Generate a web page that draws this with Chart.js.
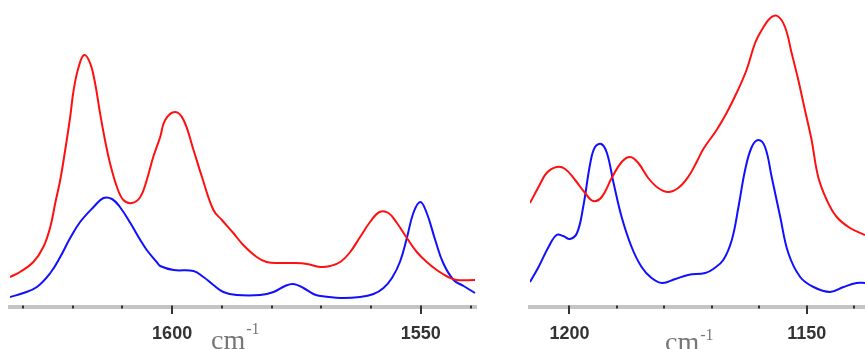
<!DOCTYPE html>
<html><head><meta charset="utf-8">
<script src="https://cdn.jsdelivr.net/npm/chart.js@4/dist/chart.umd.min.js"></script>
<style>
html,body{margin:0;padding:0;background:#fff;width:865px;height:349px;overflow:hidden}
#l{position:absolute;left:0;top:0}
#r{position:absolute;left:525px;top:0}
</style></head><body>
<canvas id="l" width="480" height="349"></canvas>
<canvas id="r" width="340" height="349"></canvas>
<script>
// ---- Left panel (1630-1540 cm-1) ----
const leftRedWn  = [1632.6,1630.6,1627.9,1625.9,1624.5,1623.5,1622.5,1621.5,1620.5,1619.8,1618.8,1617.7,1616.5,1615.5,1614.5,1613.5,1612.5,1611.1,1609.8,1608.1,1606.4,1605.1,1603.8,1602.4,1601.4,1599.4,1597.7,1595.7,1594.0,1591.7,1590.0,1587.7,1585.7,1583.0,1581.0,1578.3,1575.6,1572.9,1570.2,1568.2,1566.2,1564.2,1562.2,1560.2,1558.3,1556.5,1554.8,1552.8,1550.8,1548.8,1546.8,1544.5,1542.8,1539.1];
const leftRedAbs = [30,35,45,60,80,104,127,157,190,217,240,252,244,224,194,167,144,120,107,104,110,127,150,170,187,195,187,157,130,97,87,74,62,50,45,44,44,43,40,41,45,55,70,85,95,94,84,69,55,45,37,30,27,27];
const leftBlueWn  = [1632.6,1629.9,1627.2,1624.5,1622.5,1620.5,1618.5,1615.8,1613.8,1612.1,1610.5,1608.4,1606.4,1605.1,1603.1,1602.4,1599.7,1595.7,1593.7,1591.7,1589.7,1587.0,1582.3,1579.6,1577.3,1575.6,1573.6,1571.6,1570.2,1566.2,1562.2,1559.5,1557.5,1555.8,1554.2,1552.8,1551.5,1550.1,1548.8,1547.1,1545.5,1543.4,1541.4,1539.1];
const leftBlueAbs = [10,14,20,34,50,69,85,100,109,108,100,84,67,57,45,41,37,36,30,22,15,12,12,15,21,23,19,13,11,9,10,13,19,29,45,69,94,105,94,67,44,27,21,14];
const leftTickLabels = [1600, 1550];
const leftMinorTicks = [1630,1620,1610,1600,1590,1580,1570,1560,1550,1540];

// ---- Right panel (1205-1140 cm-1) ----
const rightRedWn  = [1208.3,1206.5,1204.8,1202.7,1200.9,1198.8,1196.7,1195.0,1193.2,1191.1,1189.0,1187.2,1185.5,1183.4,1181.3,1179.2,1177.1,1175.0,1173.2,1171.8,1169.0,1166.9,1164.8,1162.7,1160.9,1159.5,1157.7,1156.2,1154.6,1153.2,1151.8,1150.4,1149.0,1147.6,1145.8,1143.7,1140.9,1137.75];
const rightRedAbs = [104,120,134,140,138,127,114,106,110,129,145,150,144,129,119,115,119,130,145,158,177,194,214,237,264,277,289,291,280,254,227,197,167,130,107,90,79,72];
const rightBlueWn  = [1208.3,1206.5,1204.4,1202.7,1201.3,1199.9,1198.4,1197.1,1195.6,1194.6,1193.3,1192.1,1190.7,1189.0,1186.9,1184.8,1182.7,1180.5,1177.7,1175.0,1171.4,1169.7,1167.6,1165.8,1164.4,1163.0,1161.6,1160.2,1158.8,1157.4,1155.6,1153.9,1151.4,1148.6,1145.1,1142.3,1139.5,1137.75];
const rightBlueAbs = [25,40,60,72,71,68,74,100,144,160,163,154,124,90,60,40,29,24,28,32,34,38,47,67,100,137,160,167,160,130,90,54,30,20,15,20,24,24];
const rightTickLabels = [1200, 1150];
const rightMinorTicks = [1200,1190,1180,1170,1160,1150,1140];

const unitLabel = "cm";
const unitSup = "-1";

function pts(xs, ys){ return xs.map((x,i)=>({x:x, y:ys[i]})); }

function makeChart(id, redWn, redAbs, blueWn, blueAbs, xmin, xmax, tickLabels, minorTicks, padL, padR, title){
  const tickPlugin = {
    id: 'minorTicks',
    afterDraw(chart){
      const sx = chart.scales.x, ctx = chart.ctx;
      const y0 = sx.top - 1.5;
      ctx.save();
      ctx.strokeStyle = '#333';
      ctx.lineWidth = 2;
      minorTicks.forEach(v=>{
        const px = Math.round(sx.getPixelForValue(v));
        const major = tickLabels.includes(v);
        ctx.beginPath();
        ctx.moveTo(px, y0);
        ctx.lineTo(px, major ? sx.top + 7 : sx.top + 1.5);
        ctx.stroke();
      });
      ctx.fillStyle = '#777';
      ctx.textBaseline = 'alphabetic';
      ctx.font = '28px "Liberation Serif", "Times New Roman", serif';
      ctx.fillText(unitLabel, title.x, title.y);
      const w = ctx.measureText(unitLabel).width;
      ctx.font = '16px "Liberation Serif", "Times New Roman", serif';
      ctx.fillText(unitSup, title.x + w + 1, title.y - title.sup);
      ctx.restore();
    }
  };
  return new Chart(document.getElementById(id), {
    type: 'line',
    data: {
      datasets: [
        {data: pts(redWn, redAbs), borderColor: '#ff1010', borderWidth: 2, pointRadius: 0, tension: 0.4, fill: false},
        {data: pts(blueWn, blueAbs), borderColor: '#1010ff', borderWidth: 2, pointRadius: 0, tension: 0.4, fill: false}
      ]
    },
    options: {
      responsive: false,
      animation: false,
      devicePixelRatio: 1,
      layout: {padding: {left: padL, right: padR, top: 0, bottom: 0}},
      plugins: {legend: {display: false}, tooltip: {enabled: false}},
      scales: {
        x: {
          type: 'linear', reverse: true, min: xmin, max: xmax, position: 'bottom',
          grid: {display: false, drawTicks: false},
          border: {display: true, color: '#c4c4c4', width: 4},
          ticks: {font: {family: '"Liberation Sans", Arial, sans-serif', size: 18, weight: 'bold'}, color: '#333', padding: 16, maxRotation: 0, autoSkip: false, callback: v => String(v)},
          afterBuildTicks: s => { s.ticks = tickLabels.map(v => ({value: v})); },
          afterFit: s => { s.height = 42; }
        },
        y: {display: false, min: 0, max: 307}
      }
    },
    plugins: [tickPlugin]
  });
}

makeChart('l', leftRedWn, leftRedAbs, leftBlueWn, leftBlueAbs, 1538.9, 1632.6, leftTickLabels, leftMinorTicks, 10, 4, {x: 211, y: 349, sup: 15});
makeChart('r', rightRedWn, rightRedAbs, rightBlueWn, rightBlueAbs, 1137.75, 1208.3, rightTickLabels, rightMinorTicks, 5, 0, {x: 140, y: 351, sup: 11});
</script>
</body></html>
